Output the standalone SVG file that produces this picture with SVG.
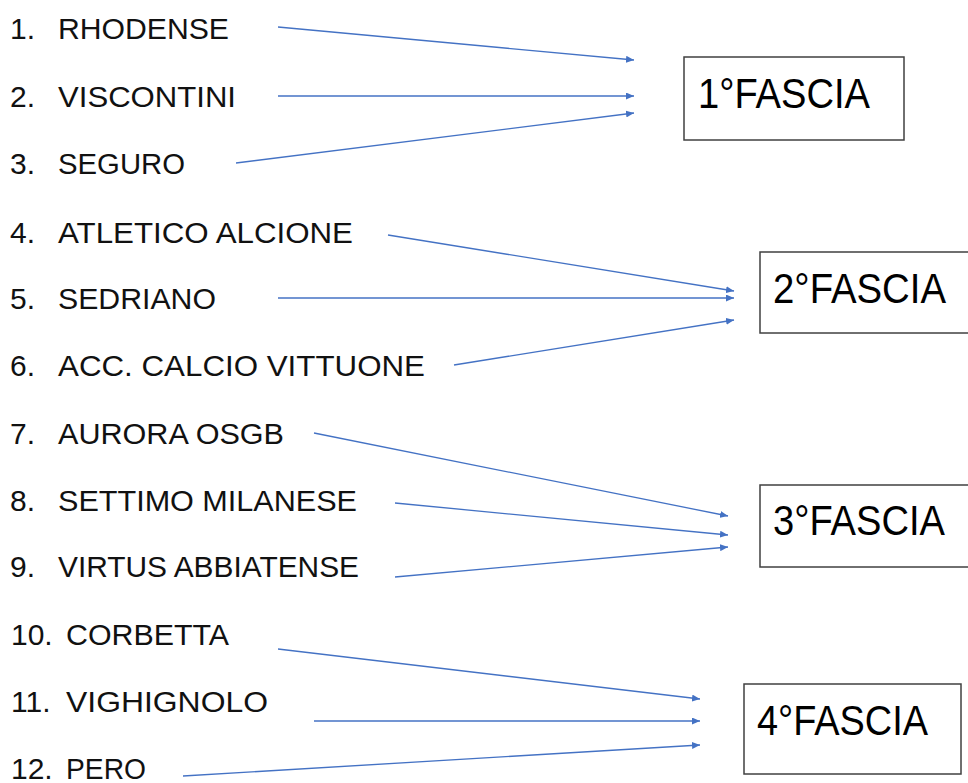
<svg xmlns="http://www.w3.org/2000/svg" width="968" height="783" viewBox="0 0 968 783">
<style>
.t{font-family:"Liberation Sans",Arial,sans-serif;font-size:30px;fill:#111}
.b{font-family:"Liberation Sans",Arial,sans-serif;font-size:42px;fill:#000}
.box{fill:#fff;stroke:#404040;stroke-width:1.5}
.c line{stroke:#4472C4;stroke-width:1.3;marker-end:url(#ah)}
</style>
<defs>
<marker id="ah" markerUnits="userSpaceOnUse" markerWidth="9" markerHeight="7" refX="8" refY="3.5" orient="auto">
<path d="M0,0 L8,3.5 L0,7 z" fill="#4472C4"/>
</marker>
</defs>
<rect width="968" height="783" fill="#fff"/>
<g id="list">
<g id="n1"><text class="t" x="10" y="39">1.</text><text class="t" x="58" y="39" textLength="171" lengthAdjust="spacingAndGlyphs">RHODENSE</text></g>
<g id="n2"><text class="t" x="10" y="107">2.</text><text class="t" x="58" y="107" textLength="178" lengthAdjust="spacingAndGlyphs">VISCONTINI</text></g>
<g id="n3"><text class="t" x="10" y="174">3.</text><text class="t" x="58" y="174" textLength="127" lengthAdjust="spacingAndGlyphs">SEGURO</text></g>
<g id="n4"><text class="t" x="10" y="243">4.</text><text class="t" x="58" y="243" textLength="295" lengthAdjust="spacingAndGlyphs">ATLETICO ALCIONE</text></g>
<g id="n5"><text class="t" x="10" y="309">5.</text><text class="t" x="58" y="309" textLength="158" lengthAdjust="spacingAndGlyphs">SEDRIANO</text></g>
<g id="n6"><text class="t" x="10" y="376">6.</text><text class="t" x="58" y="376" textLength="367" lengthAdjust="spacingAndGlyphs">ACC. CALCIO VITTUONE</text></g>
<g id="n7"><text class="t" x="10" y="444">7.</text><text class="t" x="58" y="444" textLength="226" lengthAdjust="spacingAndGlyphs">AURORA OSGB</text></g>
<g id="n8"><text class="t" x="10" y="511">8.</text><text class="t" x="58" y="511" textLength="299" lengthAdjust="spacingAndGlyphs">SETTIMO MILANESE</text></g>
<g id="n9"><text class="t" x="10" y="577">9.</text><text class="t" x="58" y="577" textLength="301" lengthAdjust="spacingAndGlyphs">VIRTUS ABBIATENSE</text></g>
<g id="n10"><text class="t" x="11" y="645">10.</text><text class="t" x="66" y="645" textLength="163" lengthAdjust="spacingAndGlyphs">CORBETTA</text></g>
<g id="n11"><text class="t" x="11" y="712">11.</text><text class="t" x="66" y="712" textLength="202" lengthAdjust="spacingAndGlyphs">VIGHIGNOLO</text></g>
<g id="n12"><text class="t" x="11" y="779">12.</text><text class="t" x="66" y="779" textLength="80" lengthAdjust="spacingAndGlyphs">PERO</text></g>
</g>
<g id="f1"><rect class="box" x="684" y="57" width="220" height="83"/><text class="b" x="698" y="108" textLength="172" lengthAdjust="spacingAndGlyphs">1°FASCIA</text></g>
<g id="f2"><rect class="box" x="760" y="252" width="220" height="81"/><text class="b" x="773" y="303" textLength="173" lengthAdjust="spacingAndGlyphs">2°FASCIA</text></g>
<g id="f3"><rect class="box" x="760" y="485" width="220" height="82"/><text class="b" x="773" y="535" textLength="172" lengthAdjust="spacingAndGlyphs">3°FASCIA</text></g>
<g id="f4"><rect class="box" x="744" y="684" width="217" height="90"/><text class="b" x="757" y="735" textLength="171" lengthAdjust="spacingAndGlyphs">4°FASCIA</text></g>
<g id="connectors" class="c">
<line x1="278" y1="27" x2="634" y2="60"/>
<line x1="278" y1="96" x2="634" y2="96"/>
<line x1="236" y1="163" x2="634" y2="113"/>
<line x1="388" y1="235" x2="734" y2="291"/>
<line x1="278" y1="298" x2="734" y2="298"/>
<line x1="454" y1="365" x2="734" y2="320"/>
<line x1="314" y1="433" x2="728" y2="516"/>
<line x1="395" y1="503" x2="728" y2="535"/>
<line x1="395" y1="577" x2="728" y2="547"/>
<line x1="278" y1="649" x2="700" y2="699"/>
<line x1="314" y1="721" x2="700" y2="721"/>
<line x1="183" y1="776" x2="700" y2="745"/>
</g>
</svg>
